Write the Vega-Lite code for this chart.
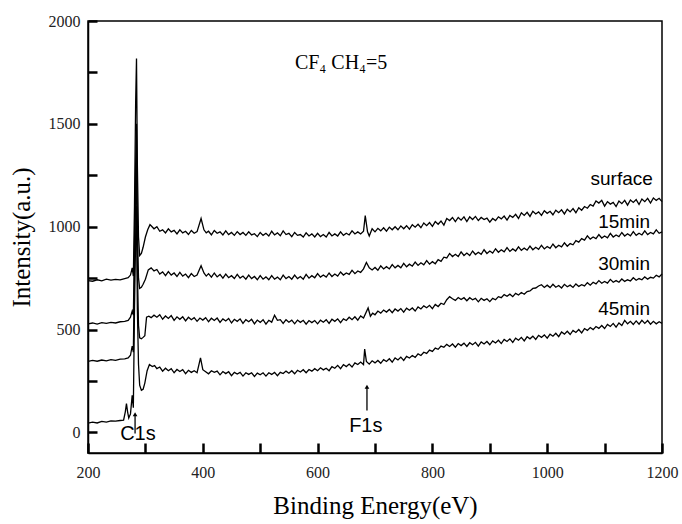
{
  "$schema": "https://vega.github.io/schema/vega-lite/v6.json",
  "width": 574,
  "height": 432,
  "autosize": {"type": "none"},
  "padding": {"left": 88, "top": 21, "right": 20, "bottom": 71},
  "background": "white",
  "config": {
    "view": {"stroke": "black", "strokeWidth": 1.5},
    "axis": {"zindex": 2, "domainColor": "black", "domainWidth": 1.5, "tickColor": "black", "tickWidth": 2.5, "tickOpacity": 1, "labelFont": "Liberation Serif", "labelFontSize": 16, "labelColor": "#222", "titleFont": "Liberation Serif", "titleFontSize": 25, "titleFontWeight": "normal", "titleColor": "black", "grid": false}
  },
  "datasets": {
    "surface": [
      {"e":200,"i":738},{"e":208,"i":735},{"e":216,"i":742},{"e":224,"i":737},{"e":232,"i":745},{"e":240,"i":740},{"e":248,"i":744},{"e":256,"i":742},{"e":264,"i":748},{"e":270,"i":752},{"e":274,"i":765},{"e":277,"i":800},{"e":279,"i":760},
      {"e":281,"i":1100},{"e":283,"i":1600},{"e":284.5,"i":1818},{"e":286,"i":1300},{"e":288,"i":950},{"e":290,"i":860},{"e":293,"i":870},{"e":296,"i":900},{"e":300,"i":950},{"e":304,"i":985},{"e":308,"i":1010},
      {"e":310,"i":1005},{"e":315,"i":990},{"e":320,"i":1000},{"e":325,"i":978},{"e":330,"i":985},{"e":335,"i":970},{"e":340,"i":990},{"e":345,"i":975},{"e":350,"i":982},{"e":355,"i":965},{"e":360,"i":985},{"e":365,"i":970},{"e":370,"i":978},{"e":375,"i":962},{"e":380,"i":982},{"e":385,"i":968},{"e":390,"i":976},{"e":397,"i":1040},{"e":402,"i":985},{"e":406,"i":970},{"e":410,"i":978},{"e":415,"i":960},{"e":420,"i":982},{"e":425,"i":968},{"e":430,"i":975},{"e":435,"i":960},{"e":440,"i":980},{"e":445,"i":962},{"e":450,"i":972},{"e":455,"i":958},{"e":460,"i":976},{"e":465,"i":962},{"e":470,"i":972},{"e":475,"i":958},{"e":480,"i":975},{"e":485,"i":960},{"e":490,"i":966},{"e":495,"i":952},{"e":500,"i":972},{"e":505,"i":958},{"e":510,"i":968},{"e":515,"i":955},{"e":520,"i":978},{"e":525,"i":960},{"e":530,"i":970},{"e":535,"i":956},{"e":540,"i":980},{"e":545,"i":962},{"e":550,"i":968},{"e":555,"i":952},{"e":560,"i":972},{"e":565,"i":958},{"e":570,"i":962},{"e":575,"i":950},{"e":580,"i":970},{"e":585,"i":955},{"e":590,"i":965},{"e":595,"i":950},{"e":600,"i":968},{"e":605,"i":952},{"e":610,"i":962},{"e":615,"i":950},{"e":620,"i":972},{"e":625,"i":955},{"e":630,"i":965},{"e":635,"i":955},{"e":640,"i":975},{"e":645,"i":958},{"e":650,"i":968},{"e":655,"i":960},{"e":660,"i":980},{"e":665,"i":965},{"e":670,"i":975},{"e":675,"i":965},{"e":680,"i":978},{"e":683,"i":1054},{"e":687,"i":975},{"e":690,"i":955},{"e":695,"i":990},{"e":700,"i":975},{"e":705,"i":992},{"e":710,"i":980},{"e":715,"i":995},{"e":720,"i":978},{"e":725,"i":998},{"e":730,"i":985},{"e":735,"i":1000},{"e":740,"i":985},{"e":745,"i":1004},{"e":750,"i":990},{"e":755,"i":1005},{"e":760,"i":988},{"e":765,"i":1010},{"e":770,"i":998},{"e":775,"i":1012},{"e":780,"i":995},{"e":785,"i":1018},{"e":790,"i":1005},{"e":795,"i":1020},{"e":800,"i":1002},{"e":805,"i":1025},{"e":810,"i":1012},{"e":815,"i":1028},{"e":820,"i":1008},{"e":825,"i":1040},{"e":830,"i":1030},{"e":835,"i":1045},{"e":840,"i":1025},{"e":845,"i":1045},{"e":850,"i":1032},{"e":855,"i":1048},{"e":860,"i":1025},{"e":865,"i":1048},{"e":870,"i":1035},{"e":875,"i":1050},{"e":880,"i":1030},{"e":885,"i":1045},{"e":890,"i":1035},{"e":895,"i":1042},{"e":900,"i":1022},{"e":905,"i":1040},{"e":910,"i":1030},{"e":915,"i":1048},{"e":920,"i":1038},{"e":925,"i":1052},{"e":930,"i":1032},{"e":935,"i":1055},{"e":940,"i":1045},{"e":945,"i":1060},{"e":950,"i":1040},{"e":955,"i":1068},{"e":960,"i":1055},{"e":965,"i":1070},{"e":970,"i":1050},{"e":975,"i":1075},{"e":980,"i":1062},{"e":985,"i":1072},{"e":990,"i":1055},{"e":995,"i":1078},{"e":1000,"i":1065},{"e":1005,"i":1075},{"e":1010,"i":1058},{"e":1015,"i":1080},{"e":1020,"i":1068},{"e":1025,"i":1082},{"e":1030,"i":1062},{"e":1035,"i":1085},{"e":1040,"i":1072},{"e":1045,"i":1088},{"e":1050,"i":1068},{"e":1055,"i":1092},{"e":1060,"i":1080},{"e":1065,"i":1098},{"e":1070,"i":1090},{"e":1075,"i":1108},{"e":1080,"i":1100},{"e":1085,"i":1125},{"e":1090,"i":1115},{"e":1095,"i":1128},{"e":1100,"i":1100},{"e":1105,"i":1122},{"e":1110,"i":1110},{"e":1115,"i":1118},{"e":1120,"i":1098},{"e":1125,"i":1125},{"e":1130,"i":1112},{"e":1135,"i":1128},{"e":1140,"i":1105},{"e":1145,"i":1130},{"e":1150,"i":1118},{"e":1155,"i":1132},{"e":1160,"i":1108},{"e":1165,"i":1135},{"e":1170,"i":1122},{"e":1175,"i":1138},{"e":1180,"i":1115},{"e":1185,"i":1140},{"e":1190,"i":1128},{"e":1195,"i":1138},{"e":1200,"i":1122}
    ],
    "m15": [
      {"e":200,"i":528},{"e":208,"i":532},{"e":216,"i":527},{"e":224,"i":534},{"e":232,"i":530},{"e":240,"i":535},{"e":248,"i":532},{"e":256,"i":538},{"e":264,"i":540},{"e":270,"i":545},{"e":274,"i":560},{"e":277,"i":590},{"e":279,"i":570},
      {"e":281,"i":900},{"e":283,"i":1300},{"e":284.5,"i":1500},{"e":286,"i":1000},{"e":288,"i":750},{"e":290,"i":700},{"e":293,"i":705},{"e":296,"i":720},{"e":300,"i":745},{"e":305,"i":790},{"e":310,"i":800},
      {"e":315,"i":785},{"e":320,"i":792},{"e":325,"i":770},{"e":330,"i":780},{"e":335,"i":762},{"e":340,"i":782},{"e":345,"i":765},{"e":350,"i":775},{"e":355,"i":758},{"e":360,"i":778},{"e":365,"i":760},{"e":370,"i":770},{"e":375,"i":752},{"e":380,"i":772},{"e":385,"i":758},{"e":390,"i":765},{"e":397,"i":810},{"e":402,"i":775},{"e":406,"i":760},{"e":410,"i":772},{"e":415,"i":755},{"e":420,"i":775},{"e":425,"i":756},{"e":430,"i":768},{"e":435,"i":750},{"e":440,"i":770},{"e":445,"i":752},{"e":450,"i":762},{"e":455,"i":748},{"e":460,"i":768},{"e":465,"i":750},{"e":470,"i":760},{"e":475,"i":745},{"e":480,"i":765},{"e":485,"i":748},{"e":490,"i":758},{"e":495,"i":742},{"e":500,"i":762},{"e":505,"i":745},{"e":510,"i":756},{"e":515,"i":742},{"e":520,"i":762},{"e":525,"i":745},{"e":530,"i":755},{"e":535,"i":742},{"e":540,"i":765},{"e":545,"i":748},{"e":550,"i":758},{"e":555,"i":745},{"e":560,"i":765},{"e":565,"i":748},{"e":570,"i":758},{"e":575,"i":745},{"e":580,"i":768},{"e":585,"i":750},{"e":590,"i":762},{"e":595,"i":752},{"e":600,"i":772},{"e":605,"i":755},{"e":610,"i":765},{"e":615,"i":755},{"e":620,"i":775},{"e":625,"i":758},{"e":630,"i":770},{"e":635,"i":760},{"e":640,"i":780},{"e":645,"i":765},{"e":650,"i":775},{"e":655,"i":768},{"e":660,"i":788},{"e":665,"i":772},{"e":670,"i":785},{"e":675,"i":778},{"e":680,"i":795},{"e":685,"i":826},{"e":690,"i":800},{"e":695,"i":790},{"e":700,"i":802},{"e":705,"i":788},{"e":710,"i":810},{"e":715,"i":795},{"e":720,"i":806},{"e":725,"i":795},{"e":730,"i":816},{"e":735,"i":800},{"e":740,"i":812},{"e":745,"i":800},{"e":750,"i":822},{"e":755,"i":805},{"e":760,"i":818},{"e":765,"i":808},{"e":770,"i":828},{"e":775,"i":812},{"e":780,"i":825},{"e":785,"i":815},{"e":790,"i":835},{"e":795,"i":818},{"e":800,"i":830},{"e":805,"i":820},{"e":810,"i":840},{"e":815,"i":832},{"e":820,"i":852},{"e":825,"i":848},{"e":830,"i":870},{"e":835,"i":855},{"e":840,"i":866},{"e":845,"i":855},{"e":850,"i":878},{"e":855,"i":860},{"e":860,"i":872},{"e":865,"i":860},{"e":870,"i":882},{"e":875,"i":865},{"e":880,"i":876},{"e":885,"i":866},{"e":890,"i":888},{"e":895,"i":870},{"e":900,"i":882},{"e":905,"i":872},{"e":910,"i":893},{"e":915,"i":876},{"e":920,"i":888},{"e":925,"i":878},{"e":930,"i":898},{"e":935,"i":880},{"e":940,"i":892},{"e":945,"i":882},{"e":950,"i":902},{"e":955,"i":885},{"e":960,"i":896},{"e":965,"i":886},{"e":970,"i":906},{"e":975,"i":888},{"e":980,"i":900},{"e":985,"i":890},{"e":990,"i":910},{"e":995,"i":892},{"e":1000,"i":904},{"e":1005,"i":895},{"e":1010,"i":916},{"e":1015,"i":898},{"e":1020,"i":910},{"e":1025,"i":902},{"e":1030,"i":922},{"e":1035,"i":905},{"e":1040,"i":918},{"e":1045,"i":912},{"e":1050,"i":932},{"e":1055,"i":925},{"e":1060,"i":942},{"e":1065,"i":935},{"e":1070,"i":956},{"e":1075,"i":940},{"e":1080,"i":950},{"e":1085,"i":942},{"e":1090,"i":962},{"e":1095,"i":945},{"e":1100,"i":955},{"e":1105,"i":946},{"e":1110,"i":968},{"e":1115,"i":950},{"e":1120,"i":960},{"e":1125,"i":952},{"e":1130,"i":972},{"e":1135,"i":955},{"e":1140,"i":966},{"e":1145,"i":956},{"e":1150,"i":976},{"e":1155,"i":958},{"e":1160,"i":968},{"e":1165,"i":960},{"e":1170,"i":980},{"e":1175,"i":962},{"e":1180,"i":972},{"e":1185,"i":965},{"e":1190,"i":985},{"e":1195,"i":968},{"e":1200,"i":975}
    ],
    "m30": [
      {"e":200,"i":345},{"e":208,"i":350},{"e":216,"i":346},{"e":224,"i":352},{"e":232,"i":348},{"e":240,"i":354},{"e":248,"i":350},{"e":256,"i":356},{"e":264,"i":358},{"e":270,"i":362},{"e":274,"i":375},{"e":277,"i":420},{"e":279,"i":390},
      {"e":281,"i":800},{"e":283,"i":1150},{"e":284.5,"i":1300},{"e":286,"i":800},{"e":288,"i":520},{"e":290,"i":460},{"e":293,"i":455},{"e":296,"i":462},{"e":299,"i":470},{"e":302,"i":560},{"e":306,"i":565},{"e":310,"i":558},
      {"e":315,"i":570},{"e":320,"i":560},{"e":325,"i":572},{"e":330,"i":550},{"e":335,"i":566},{"e":340,"i":554},{"e":345,"i":568},{"e":350,"i":545},{"e":355,"i":562},{"e":360,"i":550},{"e":365,"i":562},{"e":370,"i":542},{"e":375,"i":560},{"e":380,"i":548},{"e":385,"i":558},{"e":390,"i":540},{"e":395,"i":556},{"e":400,"i":546},{"e":405,"i":558},{"e":410,"i":538},{"e":415,"i":555},{"e":420,"i":544},{"e":425,"i":556},{"e":430,"i":535},{"e":435,"i":552},{"e":440,"i":542},{"e":445,"i":554},{"e":450,"i":532},{"e":455,"i":550},{"e":460,"i":540},{"e":465,"i":552},{"e":470,"i":530},{"e":475,"i":548},{"e":480,"i":538},{"e":485,"i":550},{"e":490,"i":528},{"e":495,"i":546},{"e":500,"i":535},{"e":505,"i":548},{"e":510,"i":526},{"e":515,"i":545},{"e":520,"i":536},{"e":525,"i":570},{"e":530,"i":545},{"e":535,"i":548},{"e":540,"i":530},{"e":545,"i":548},{"e":550,"i":536},{"e":555,"i":546},{"e":560,"i":528},{"e":565,"i":546},{"e":570,"i":535},{"e":575,"i":545},{"e":580,"i":526},{"e":585,"i":544},{"e":590,"i":534},{"e":595,"i":544},{"e":600,"i":528},{"e":605,"i":546},{"e":610,"i":536},{"e":615,"i":548},{"e":620,"i":530},{"e":625,"i":550},{"e":630,"i":540},{"e":635,"i":552},{"e":640,"i":534},{"e":645,"i":552},{"e":650,"i":544},{"e":655,"i":560},{"e":660,"i":548},{"e":665,"i":562},{"e":670,"i":546},{"e":675,"i":566},{"e":680,"i":556},{"e":688,"i":605},{"e":692,"i":565},{"e":696,"i":580},{"e":700,"i":572},{"e":705,"i":590},{"e":710,"i":580},{"e":715,"i":595},{"e":720,"i":585},{"e":725,"i":598},{"e":730,"i":582},{"e":735,"i":600},{"e":740,"i":590},{"e":745,"i":602},{"e":750,"i":585},{"e":755,"i":604},{"e":760,"i":594},{"e":765,"i":605},{"e":770,"i":590},{"e":775,"i":610},{"e":780,"i":600},{"e":785,"i":615},{"e":790,"i":606},{"e":795,"i":618},{"e":800,"i":602},{"e":805,"i":622},{"e":810,"i":612},{"e":815,"i":628},{"e":820,"i":622},{"e":825,"i":645},{"e":830,"i":660},{"e":835,"i":650},{"e":840,"i":642},{"e":845,"i":656},{"e":850,"i":646},{"e":855,"i":655},{"e":860,"i":640},{"e":865,"i":655},{"e":870,"i":645},{"e":875,"i":652},{"e":880,"i":635},{"e":885,"i":652},{"e":890,"i":642},{"e":895,"i":650},{"e":900,"i":636},{"e":905,"i":652},{"e":910,"i":645},{"e":915,"i":660},{"e":920,"i":655},{"e":925,"i":670},{"e":930,"i":662},{"e":935,"i":672},{"e":940,"i":660},{"e":945,"i":676},{"e":950,"i":668},{"e":955,"i":680},{"e":960,"i":672},{"e":965,"i":685},{"e":970,"i":688},{"e":975,"i":700},{"e":980,"i":702},{"e":985,"i":712},{"e":990,"i":718},{"e":995,"i":705},{"e":1000,"i":716},{"e":1005,"i":704},{"e":1010,"i":720},{"e":1015,"i":706},{"e":1020,"i":714},{"e":1025,"i":702},{"e":1030,"i":720},{"e":1035,"i":708},{"e":1040,"i":716},{"e":1045,"i":705},{"e":1050,"i":722},{"e":1055,"i":710},{"e":1060,"i":718},{"e":1065,"i":712},{"e":1070,"i":728},{"e":1075,"i":716},{"e":1080,"i":730},{"e":1085,"i":722},{"e":1090,"i":738},{"e":1095,"i":725},{"e":1100,"i":734},{"e":1105,"i":726},{"e":1110,"i":744},{"e":1115,"i":730},{"e":1120,"i":738},{"e":1125,"i":730},{"e":1130,"i":746},{"e":1135,"i":734},{"e":1140,"i":742},{"e":1145,"i":736},{"e":1150,"i":752},{"e":1155,"i":740},{"e":1160,"i":748},{"e":1165,"i":742},{"e":1170,"i":756},{"e":1175,"i":745},{"e":1180,"i":754},{"e":1185,"i":750},{"e":1190,"i":764},{"e":1195,"i":756},{"e":1200,"i":770}
    ],
    "m45": [
      {"e":200,"i":45},{"e":208,"i":50},{"e":216,"i":46},{"e":224,"i":54},{"e":232,"i":50},{"e":240,"i":56},{"e":248,"i":55},{"e":256,"i":58},{"e":262,"i":60},{"e":265,"i":100},{"e":267,"i":140},{"e":269,"i":100},{"e":271,"i":70},{"e":274,"i":90},{"e":277,"i":180},{"e":279,"i":120},
      {"e":281,"i":600},{"e":283,"i":950},{"e":284.5,"i":1100},{"e":286,"i":600},{"e":288,"i":330},{"e":290,"i":230},{"e":293,"i":205},{"e":296,"i":210},{"e":299,"i":240},{"e":303,"i":300},{"e":307,"i":330},{"e":312,"i":320},
      {"e":316,"i":325},{"e":320,"i":310},{"e":325,"i":318},{"e":330,"i":298},{"e":335,"i":312},{"e":340,"i":300},{"e":345,"i":310},{"e":350,"i":290},{"e":355,"i":306},{"e":360,"i":296},{"e":365,"i":305},{"e":370,"i":286},{"e":375,"i":302},{"e":380,"i":292},{"e":385,"i":300},{"e":390,"i":290},{"e":396,"i":362},{"e":400,"i":305},{"e":405,"i":295},{"e":410,"i":285},{"e":415,"i":300},{"e":420,"i":292},{"e":425,"i":298},{"e":430,"i":280},{"e":435,"i":296},{"e":440,"i":286},{"e":445,"i":295},{"e":450,"i":276},{"e":455,"i":292},{"e":460,"i":284},{"e":465,"i":292},{"e":470,"i":274},{"e":475,"i":290},{"e":480,"i":282},{"e":485,"i":290},{"e":490,"i":272},{"e":495,"i":288},{"e":500,"i":280},{"e":505,"i":290},{"e":510,"i":274},{"e":515,"i":290},{"e":520,"i":282},{"e":525,"i":292},{"e":530,"i":276},{"e":535,"i":292},{"e":540,"i":286},{"e":545,"i":298},{"e":550,"i":288},{"e":555,"i":300},{"e":560,"i":285},{"e":565,"i":302},{"e":570,"i":294},{"e":575,"i":305},{"e":580,"i":290},{"e":585,"i":306},{"e":590,"i":298},{"e":595,"i":310},{"e":600,"i":300},{"e":605,"i":314},{"e":610,"i":304},{"e":615,"i":312},{"e":620,"i":300},{"e":625,"i":320},{"e":630,"i":312},{"e":635,"i":326},{"e":640,"i":310},{"e":645,"i":330},{"e":650,"i":320},{"e":655,"i":332},{"e":660,"i":318},{"e":665,"i":338},{"e":670,"i":330},{"e":675,"i":342},{"e":680,"i":330},{"e":682,"i":405},{"e":685,"i":345},{"e":690,"i":332},{"e":695,"i":348},{"e":700,"i":338},{"e":705,"i":350},{"e":710,"i":336},{"e":715,"i":354},{"e":720,"i":345},{"e":725,"i":358},{"e":730,"i":342},{"e":735,"i":362},{"e":740,"i":352},{"e":745,"i":366},{"e":750,"i":350},{"e":755,"i":370},{"e":760,"i":362},{"e":765,"i":374},{"e":770,"i":365},{"e":775,"i":382},{"e":780,"i":374},{"e":785,"i":390},{"e":790,"i":384},{"e":795,"i":400},{"e":800,"i":394},{"e":805,"i":410},{"e":810,"i":404},{"e":815,"i":420},{"e":820,"i":414},{"e":825,"i":428},{"e":830,"i":418},{"e":835,"i":430},{"e":840,"i":414},{"e":845,"i":432},{"e":850,"i":422},{"e":855,"i":434},{"e":860,"i":418},{"e":865,"i":436},{"e":870,"i":426},{"e":875,"i":438},{"e":880,"i":420},{"e":885,"i":440},{"e":890,"i":430},{"e":895,"i":442},{"e":900,"i":426},{"e":905,"i":445},{"e":910,"i":435},{"e":915,"i":448},{"e":920,"i":432},{"e":925,"i":452},{"e":930,"i":442},{"e":935,"i":455},{"e":940,"i":438},{"e":945,"i":458},{"e":950,"i":448},{"e":955,"i":462},{"e":960,"i":445},{"e":965,"i":465},{"e":970,"i":455},{"e":975,"i":468},{"e":980,"i":452},{"e":985,"i":472},{"e":990,"i":462},{"e":995,"i":474},{"e":1000,"i":458},{"e":1005,"i":478},{"e":1010,"i":468},{"e":1015,"i":482},{"e":1020,"i":466},{"e":1025,"i":488},{"e":1030,"i":478},{"e":1035,"i":492},{"e":1040,"i":476},{"e":1045,"i":496},{"e":1050,"i":486},{"e":1055,"i":500},{"e":1060,"i":484},{"e":1065,"i":505},{"e":1070,"i":496},{"e":1075,"i":510},{"e":1080,"i":500},{"e":1085,"i":515},{"e":1090,"i":506},{"e":1095,"i":520},{"e":1100,"i":505},{"e":1105,"i":525},{"e":1110,"i":515},{"e":1115,"i":530},{"e":1120,"i":512},{"e":1125,"i":532},{"e":1130,"i":520},{"e":1135,"i":545},{"e":1140,"i":528},{"e":1145,"i":540},{"e":1150,"i":525},{"e":1155,"i":542},{"e":1160,"i":526},{"e":1165,"i":545},{"e":1170,"i":530},{"e":1175,"i":544},{"e":1180,"i":526},{"e":1185,"i":540},{"e":1190,"i":528},{"e":1195,"i":538},{"e":1200,"i":530}
    ],
    "labels": [
      {"e":1184,"i":1234,"t":"surface"},
      {"e":1179,"i":1021,"t":"15min"},
      {"e":1179,"i":821,"t":"30min"},
      {"e":1179,"i":598,"t":"45min"}
    ],
    "peaks": [
      {"e":287,"i":-10,"t":"C1s"},
      {"e":684,"i":29,"t":"F1s"}
    ],
    "arrows": [
      {"e":282,"a":-5,"b":88},
      {"e":686,"a":107,"b":222}
    ],
    "note": [
      {"e":641,"i":1769,"t":"CF₄ CH₄=5"}
    ]
  },
  "layer": [
    {"data": {"name": "surface"}, "mark": {"type": "line", "color": "black", "strokeWidth": 1.3},
      "encoding": {
        "x": {"field": "e", "type": "quantitative", "scale": {"domain": [200, 1200], "nice": false, "zero": false},
          "axis": {"title": "Binding Energy(eV)", "values": [200,300,400,500,600,700,800,900,1000,1100,1200], "format": "d",
            "labelExpr": "datum.value % 200 === 0 ? datum.label : ''",
            "tickSize": -10, "labelPadding": 21, "titlePadding": 13, "labelFlush": false}},
        "y": {"field": "i", "type": "quantitative", "scale": {"domain": [-100, 2000], "nice": false, "zero": false},
          "axis": {"title": "Intensity(a.u.)", "values": [0,250,500,750,1000,1250,1500,1750,2000], "format": "d",
            "labelExpr": "datum.value % 500 === 0 ? datum.label : ''",
            "tickSize": -9, "labelPadding": 17, "titlePadding": 14, "labelFlush": false}}
      }},
    {"data": {"name": "m15"}, "mark": {"type": "line", "color": "black", "strokeWidth": 1.3},
      "encoding": {"x": {"field": "e", "type": "quantitative"}, "y": {"field": "i", "type": "quantitative"}}},
    {"data": {"name": "m30"}, "mark": {"type": "line", "color": "black", "strokeWidth": 1.3},
      "encoding": {"x": {"field": "e", "type": "quantitative"}, "y": {"field": "i", "type": "quantitative"}}},
    {"data": {"name": "m45"}, "mark": {"type": "line", "color": "black", "strokeWidth": 1.3},
      "encoding": {"x": {"field": "e", "type": "quantitative"}, "y": {"field": "i", "type": "quantitative"}}},
    {"data": {"name": "labels"}, "mark": {"type": "text", "font": "Liberation Sans", "fontSize": 19, "align": "right", "baseline": "middle", "color": "black"},
      "encoding": {"x": {"field": "e", "type": "quantitative"}, "y": {"field": "i", "type": "quantitative"}, "text": {"field": "t"}}},
    {"data": {"name": "peaks"}, "mark": {"type": "text", "font": "Liberation Sans", "fontSize": 20, "align": "center", "baseline": "middle", "color": "black"},
      "encoding": {"x": {"field": "e", "type": "quantitative"}, "y": {"field": "i", "type": "quantitative"}, "text": {"field": "t"}}},
    {"data": {"name": "note"}, "mark": {"type": "text", "font": "Liberation Serif", "fontSize": 20, "align": "center", "baseline": "alphabetic", "color": "black"},
      "encoding": {"x": {"field": "e", "type": "quantitative"}, "y": {"field": "i", "type": "quantitative"}, "text": {"field": "t"}}},
    {"data": {"name": "arrows"}, "mark": {"type": "rule", "color": "black", "strokeWidth": 1.3},
      "encoding": {"x": {"field": "e", "type": "quantitative"}, "y": {"field": "a", "type": "quantitative"}, "y2": {"field": "b"}}},
    {"data": {"name": "arrows"}, "mark": {"type": "point", "shape": "triangle-up", "filled": true, "color": "black", "size": 22, "opacity": 1},
      "encoding": {"x": {"field": "e", "type": "quantitative"}, "y": {"field": "b", "type": "quantitative"}}}
  ]
}
